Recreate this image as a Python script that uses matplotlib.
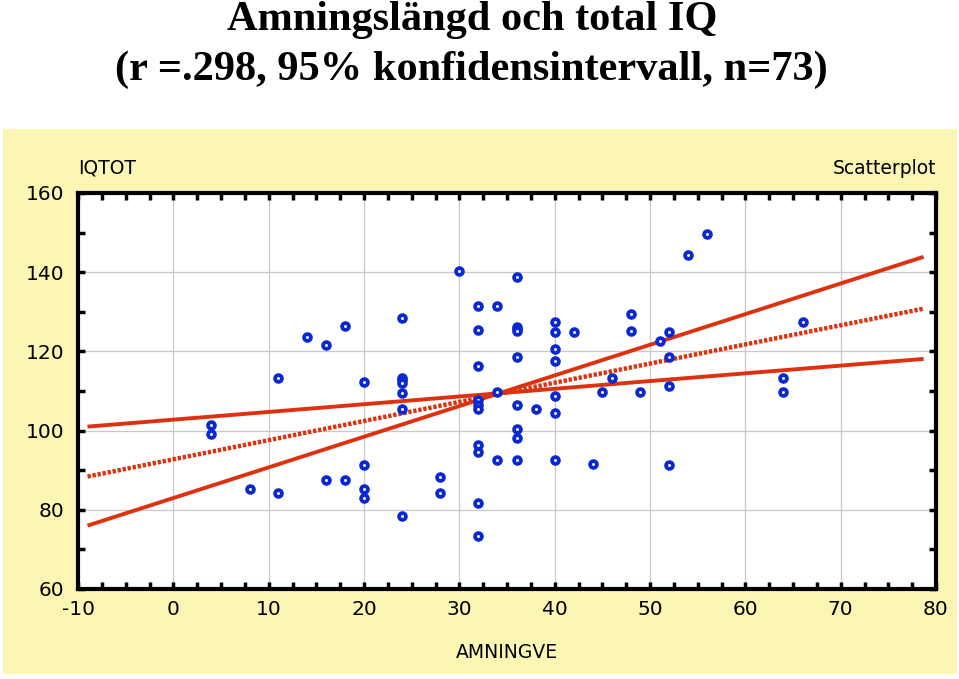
import numpy as np
import matplotlib
matplotlib.use("Agg")
import matplotlib.pyplot as plt
from matplotlib.patches import Rectangle

plt.rcParams['font.family'] = ['DejaVu Sans']
plt.rcParams['axes.unicode_minus'] = False

# ── 数据：amningslängd (veckor) och total IQ ──────────────
amning = [4, 4, 8, 11, 11, 14, 16, 16, 18, 18,
          20, 20, 20, 20, 24, 24, 24, 24, 24, 24, 24,
          28, 28, 30, 32, 32, 32, 32, 32, 32, 32, 32, 32, 32,
          34, 34, 34, 36, 36, 36, 36, 36, 36, 36, 36, 36,
          38, 40, 40, 40, 40, 40, 40, 40, 42, 44, 45, 46,
          48, 48, 49, 51, 52, 52, 52, 52, 54, 56, 64, 64, 66]
iqtot = [101.3, 99.2, 85.3, 113.3, 84.2, 123.6, 121.6, 87.4, 126.4, 87.4,
         112.3, 91.4, 85.3, 83.1, 128.4, 113.4, 112.8, 112.1, 109.6, 105.5, 78.4,
         88.4, 84.2, 140.3, 131.5, 125.3, 116.4, 107.7, 106.5, 105.5, 96.3, 94.6, 81.6, 73.4,
         131.5, 109.7, 92.5, 138.8, 126.2, 125.7, 125.2, 118.5, 106.5, 100.4, 98.2, 92.5,
         105.5, 127.4, 124.8, 120.6, 117.6, 108.7, 104.4, 92.5, 124.8, 91.5, 109.7, 113.4,
         129.4, 125.2, 109.7, 122.7, 124.8, 118.5, 111.3, 91.4, 144.4, 149.7, 113.4, 109.7, 127.3]

# regressionslinje + 95% konfidensintervall (intercept, lutning)
line_names = ['fit', 'ci_low', 'ci_high']
intercepts = [92.75, 102.76, 82.97]
slopes     = [0.4835, 0.195, 0.774]
line_range = [-9.0, 78.7]

xticks = [-10, 0, 10, 20, 30, 40, 50, 60, 70, 80]
yticks = [60, 80, 100, 120, 140, 160]

RED  = '#DD3210'
BLUE = '#0A28D0'

fig = plt.figure(figsize=(9.59, 6.79), dpi=100)

# gul bakgrundspanel (bakom axlarna)
fig.patches.append(Rectangle((3 / 959, 5 / 679), 954 / 959, 545 / 679,
                             transform=fig.transFigure, facecolor='#FBF6B4',
                             edgecolor='none', zorder=-1))

# ── titel ─────────────────────────────────────────────────
fig.text(0.492, 1 - 30 / 679, 'Amningslängd och total IQ', ha='center', va='baseline',
         family='Liberation Serif', weight='bold', fontsize=30.5)
fig.text(0.492, 1 - 80 / 679, '(r =.298, 95% konfidensintervall, n=73)', ha='center',
         va='baseline', family='Liberation Serif', weight='bold', fontsize=30.5)

ax = fig.add_axes([78 / 959, 90 / 679, 858 / 959, 396 / 679])
ax.set_facecolor('white')

# linjer (mitten prickad)
xs = np.array(line_range)
for name, a, b in zip(line_names, intercepts, slopes):
    if name == 'fit':
        ax.plot(xs, a + b * xs, color=RED, linewidth=3.2,
                linestyle=(0, (0.75, 0.4)), dash_capstyle='butt', zorder=3)
    else:
        ax.plot(xs, a + b * xs, color=RED, linewidth=2.8,
                solid_capstyle='butt', zorder=3)

# punkter
ax.plot(amning, iqtot, linestyle='none', marker='o', markersize=4.9,
        markerfacecolor='white', markeredgecolor=BLUE, markeredgewidth=2.7, zorder=4)

ax.set_xlim(-10, 80)
ax.set_ylim(60, 160)
ax.set_xticks(xticks)
ax.set_yticks(yticks)
ax.set_xticks(np.arange(-10, 80.1, 2.5), minor=True)
ax.set_yticks(np.arange(60, 160.1, 10), minor=True)
ax.set_xticklabels([str(v) for v in xticks])
ax.set_yticklabels([str(v) for v in yticks])

ax.grid(True, which='major', color='#C8C8C8', linewidth=0.9)
ax.set_axisbelow(True)
ax.tick_params(which='both', direction='in', top=True, right=True,
               length=5, width=2.5, color='black')
ax.tick_params(axis='x', which='major', labelsize=14.5, pad=8)
ax.tick_params(axis='y', which='major', labelsize=14.5, pad=10)
for sp in ax.spines.values():
    sp.set_linewidth(3.0)
    sp.set_color('black')

# axeltexter
fig.text(78 / 959, 1 - 168 / 679, 'IQTOT', ha='left', va='center', fontsize=13.5)
fig.text(936 / 959, 1 - 168 / 679, 'Scatterplot', ha='right', va='center', fontsize=13.5)
fig.text(507 / 959, 1 - 653 / 679, 'AMNINGVE', ha='center', va='center', fontsize=13.5)

fig.savefig('out.png', dpi=100)
